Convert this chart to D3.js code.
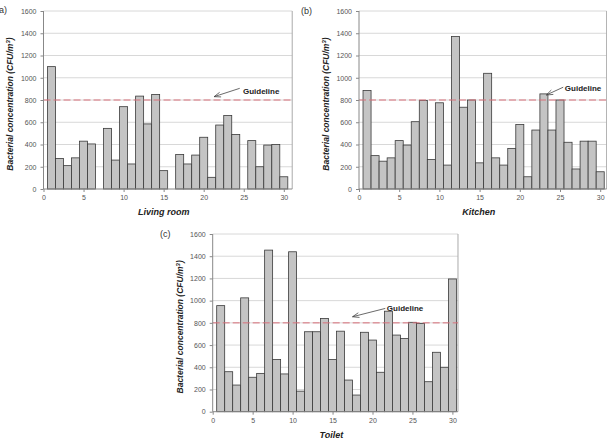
<!DOCTYPE html>
<html>
  <head>
    <meta charset="utf-8">
    <style>
      body { margin: 0; background: #fff; }
      svg { display: block; font-family: "Liberation Sans", Arial, sans-serif; }
      .bar { fill: #c4c4c4; stroke: #3a3a3a; stroke-width: 0.8px; }
      .grid line { stroke: #d8d8d8; stroke-width: 1px; }
      .tick text { fill: #555; font-size: 7px; }
      .axis path, .axis line { stroke: #888; }
      .ttl { font-weight: bold; font-style: italic; fill: #222; }
    </style>
  </head>
  <body>
    <svg width="607" height="439"></svg>
    <script src="https://cdnjs.cloudflare.com/ajax/libs/d3/7.8.5/d3.min.js"></script>
    <script>
      var days = d3.range(1, 31);
      var livingRoom = [1100, 275, 210, 280, 430, 405, 0, 545, 260, 740,
                        225, 835, 585, 850, 165, 0, 310, 225, 305, 465,
                        105, 575, 660, 490, 0, 435, 200, 395, 400, 110];
      var kitchen = [885, 300, 250, 280, 435, 395, 605, 795, 265, 775,
                     215, 1370, 735, 800, 235, 1040, 280, 215, 365, 580,
                     110, 530, 855, 530, 800, 420, 180, 430, 430, 155];
      var toilet = [955, 360, 240, 1025, 310, 345, 1455, 470, 340, 1440,
                    185, 720, 720, 840, 470, 725, 285, 150, 715, 645,
                    355, 905, 690, 660, 805, 795, 270, 535, 400, 1195];
      var yTicks = [0, 200, 400, 600, 800, 1000, 1200, 1400, 1600];
      var xTicks = [0, 5, 10, 15, 20, 25, 30];
      var guideline = 800;

      var panels = [
        { tag: "a)", name: "Living room", values: livingRoom,
          left: 43.5, top: 11, height: 178, xMax: 31.05, unit: 8.01,
          tagX: -1, tagY: 13, yTitleX: 13,
          arrow: [[24.5, 905], [21.3, 830]], label: [24.9, 855] },
        { tag: "(b)", name: "Kitchen", values: kitchen,
          left: 359, top: 11, height: 178, xMax: 30.8, unit: 8.04,
          tagX: 301, tagY: 14, yTitleX: 329,
          arrow: [[25.4, 915], [23.3, 845]], label: [25.6, 880] },
        { tag: "(c)", name: "Toilet", values: toilet,
          left: 212.7, top: 234, height: 177.7, xMax: 30.7, unit: 7.99,
          tagX: 160, tagY: 237, yTitleX: 183,
          arrow: [[21.6, 930], [17.5, 855]], label: [21.8, 905] }
      ];

      var svg = d3.select("svg");

      panels.forEach(function(p) {
        var w = p.xMax * p.unit;
        var x = d3.scaleLinear().domain([0, p.xMax]).range([0, w]);
        var y = d3.scaleLinear().domain([0, 1600]).range([p.height, 0]);
        var g = svg.append("g").attr("transform", "translate(" + p.left + "," + p.top + ")");

        g.append("g").attr("class", "grid")
          .selectAll("line").data(yTicks.slice(1)).enter().append("line")
          .attr("x1", 0).attr("x2", w)
          .attr("y1", function(d) { return y(d); }).attr("y2", function(d) { return y(d); });

        g.append("line").attr("x1", w).attr("x2", w).attr("y1", 0).attr("y2", p.height)
          .style("stroke", "#aaa");

        // days with no sample are left empty
        var rows = days.map(function(d, i) { return { day: d, v: p.values[i] }; })
          .filter(function(r) { return r.v > 0; });

        g.selectAll(".bar").data(rows).enter().append("rect")
          .attr("class", "bar")
          .attr("x", function(r) { return x(r.day - 0.5); })
          .attr("width", x(1) - x(0))
          .attr("y", function(r) { return y(r.v); })
          .attr("height", function(r) { return p.height - y(r.v); });

        g.append("line")
          .attr("x1", 0).attr("x2", w)
          .attr("y1", y(guideline)).attr("y2", y(guideline))
          .style("stroke", "#d9707a").style("stroke-width", 1)
          .style("stroke-dasharray", "7,3");

        g.append("g").attr("class", "axis")
          .call(d3.axisLeft(y).tickValues(yTicks).tickFormat(d3.format("d")).tickSize(3).tickPadding(4))
          .call(function(s) { s.select(".domain").attr("d", "M0," + p.height + "V0"); });

        g.append("g").attr("class", "axis")
          .attr("transform", "translate(0," + p.height + ")")
          .call(d3.axisBottom(x).tickValues(xTicks).tickFormat(d3.format("d")).tickSize(3).tickPadding(3))
          .call(function(s) { s.select(".domain").attr("d", "M0,0H" + w); });

        // guideline annotation
        var a = p.arrow;
        var x1 = x(a[0][0]), y1 = y(a[0][1]), x2 = x(a[1][0]), y2 = y(a[1][1]);
        var ang = Math.atan2(y2 - y1, x2 - x1);
        var hl = 7, spread = 0.35;
        g.append("line").attr("x1", x1).attr("y1", y1).attr("x2", x2).attr("y2", y2)
          .style("stroke", "#444").style("stroke-width", 0.8);
        g.append("path")
          .attr("d", "M" + (x2 - hl * Math.cos(ang - spread)) + "," + (y2 - hl * Math.sin(ang - spread)) +
                     "L" + x2 + "," + y2 +
                     "L" + (x2 - hl * Math.cos(ang + spread)) + "," + (y2 - hl * Math.sin(ang + spread)))
          .style("fill", "none").style("stroke", "#444").style("stroke-width", 0.8);
        g.append("text")
          .attr("x", x(p.label[0])).attr("y", y(p.label[1]))
          .style("font-size", "8px").style("font-weight", "bold").style("fill", "#222")
          .text("Guideline");

        g.append("text").attr("class", "ttl")
          .attr("x", w / 2 - 0.5 * p.unit).attr("y", p.height + 26)
          .attr("text-anchor", "middle")
          .style("font-size", "9px")
          .text(p.name);

        var yt = svg.append("text").attr("class", "ttl")
          .attr("transform", "translate(" + p.yTitleX + "," + (p.top + p.height / 2 + 4) + ") rotate(-90)")
          .attr("text-anchor", "middle")
          .style("font-size", "8.5px")
          .text("Bacterial concentration (CFU/m");
        yt.append("tspan").attr("dy", -3).style("font-size", "6px").text("3");
        yt.append("tspan").attr("dy", 3).text(")");

        svg.append("text")
          .attr("x", p.tagX).attr("y", p.tagY)
          .style("font-size", "9px").style("fill", "#333")
          .text(p.tag);
      });
    </script>
  </body>
</html>
